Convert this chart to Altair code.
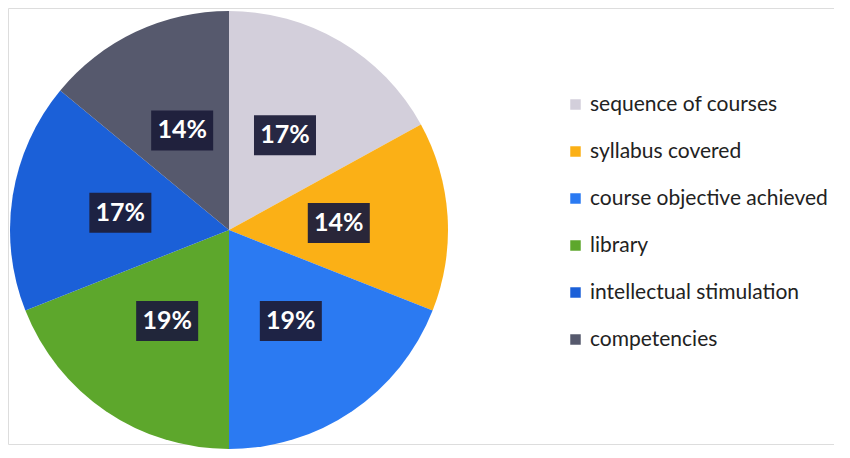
import math
import altair as alt
import pandas as pd

categories = ["sequence of courses", "syllabus covered", "course objective achieved",
              "library", "intellectual stimulation", "competencies"]
values = [17, 14, 19, 19, 17, 14]
labels = ["17%", "14%", "19%", "19%", "17%", "14%"]
colors = ["#d3cfdb", "#fbb016", "#2b7af2", "#5da72c", "#1b60d8", "#56596d"]

W, H = 826, 436
CX, CY = 221, 222   # pie centre in chart pixels
R = 219
LR = 110            # label radius

total = sum(values)
rows = []
cum = 0
for i, (c, v, l) in enumerate(zip(categories, values, labels)):
    mid = (cum + v / 2) / total * 2 * math.pi
    cum += v
    lx = CX + LR * math.sin(mid)
    ly = CY - LR * math.cos(mid)
    rows.append({"cat": c, "val": v, "lab": l, "order": i,
                 "lx": lx, "ly": ly,
                 "bx1": lx - 31, "bx2": lx + 31, "by1": ly - 20, "by2": ly + 20})
df = pd.DataFrame(rows)

color_scale = alt.Scale(domain=categories, range=colors)

pie = alt.Chart(df).mark_arc(radius=R).encode(
    theta=alt.Theta("val:Q", stack=True),
    order=alt.Order("order:Q"),
    color=alt.Color("cat:N", scale=color_scale, sort=categories,
                    legend=alt.Legend(title=None, orient="none", legendX=557, legendY=86,
                                      symbolType="square", symbolSize=110,
                                      symbolStrokeWidth=0,
                                      labelFontSize=21, labelFont="Lato",
                                      labelColor="#222222", rowPadding=25,
                                      labelLimit=400, padding=0, labelOffset=4)),
    x=alt.value(CX), y=alt.value(CY),
)

xs = alt.Scale(domain=[0, W], range=[0, W], nice=False, zero=False)
ys = alt.Scale(domain=[0, H], range=[0, H], nice=False, zero=False)

boxes = alt.Chart(df).mark_rect(color="#1d1f3b", opacity=0.95).encode(
    x=alt.X("bx1:Q", scale=xs, axis=None), x2="bx2:Q",
    y=alt.Y("by1:Q", scale=ys, axis=None), y2="by2:Q",
)

texts = alt.Chart(df).mark_text(color="white", font="Lato", fontWeight="bold",
                                fontSize=25, baseline="middle", align="center").encode(
    x=alt.X("lx:Q", scale=xs, axis=None),
    y=alt.Y("ly:Q", scale=ys, axis=None),
    text="lab:N",
)

chart = alt.layer(pie, boxes, texts).properties(
    width=W, height=H, padding=0, autosize=alt.AutoSizeParams(type="pad")
).configure_view(strokeWidth=0, stroke="transparent").configure(background="white")

chart.save("out.html", embed_options={"renderer": "svg", "actions": False})
